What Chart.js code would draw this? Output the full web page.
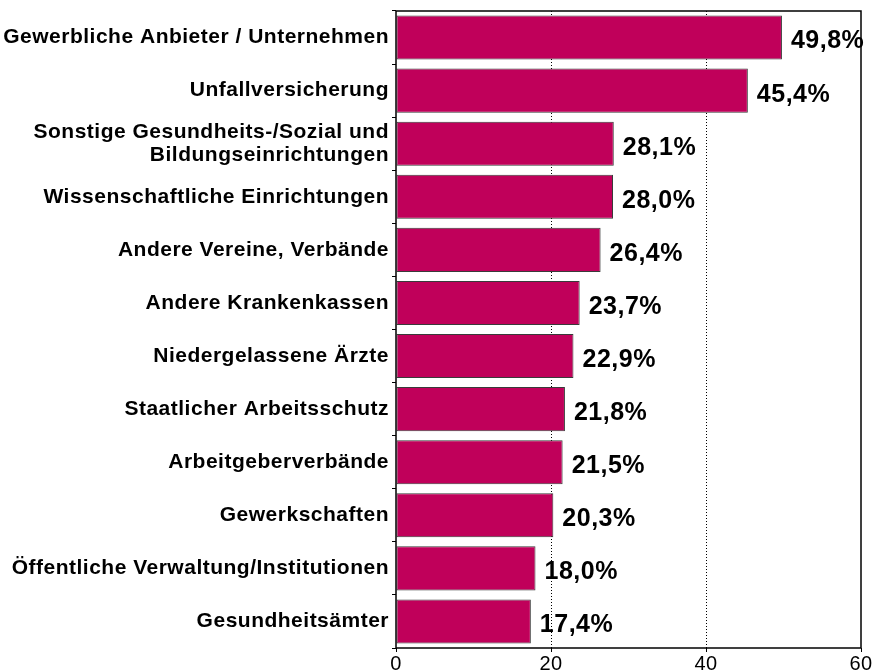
<!DOCTYPE html>
<html>
<head>
<meta charset="utf-8">
<script src="https://cdn.jsdelivr.net/npm/chart.js@4/dist/chart.umd.min.js"></script>
<style>
  html, body { margin: 0; padding: 0; background: #fff; }
  #wrap { width: 873px; height: 672px; }
</style>
</head>
<body>
<div id="wrap"><canvas id="myChart"></canvas></div>
<script>
const categories = [
  'Gewerbliche Anbieter / Unternehmen',
  'Unfallversicherung',
  ['Sonstige Gesundheits-/Sozial und', 'Bildungseinrichtungen'],
  'Wissenschaftliche Einrichtungen',
  'Andere Vereine, Verbände',
  'Andere Krankenkassen',
  'Niedergelassene Ärzte',
  'Staatlicher Arbeitsschutz',
  'Arbeitgeberverbände',
  'Gewerkschaften',
  'Öffentliche Verwaltung/Institutionen',
  'Gesundheitsämter',
]
const values = [49.8, 45.4, 28.1, 28.0, 26.4, 23.7, 22.9, 21.8, 21.5, 20.3, 18.0, 17.4]
const xTicks = [0, 20, 40, 60]

const FONT = "Arial, 'Liberation Sans', sans-serif"

// slightly wider text like the original
const textSpacing = {
  id: 'textSpacing',
  beforeDraw(chart) {
    chart.ctx.letterSpacing = '0.5px'
  },
  afterDraw(chart) {
    chart.ctx.letterSpacing = '0px'
  },
}

// value labels right of each bar
const valueLabels = {
  id: 'valueLabels',
  afterDatasetsDraw(chart) {
    const { ctx } = chart
    const meta = chart.getDatasetMeta(0)
    ctx.save()
    ctx.font = 'bold 25px ' + FONT
    ctx.fillStyle = '#000'
    ctx.textAlign = 'left'
    ctx.textBaseline = 'middle'
    meta.data.forEach((bar, i) => {
      const txt = values[i].toFixed(1).replace('.', ',') + '%'
      ctx.fillText(txt, bar.x + 9, bar.y + 4)
    })
    ctx.restore()
  },
}

// frame around the plot area
const plotBox = {
  id: 'plotBox',
  afterDraw(chart) {
    const { ctx, chartArea } = chart
    ctx.save()
    ctx.strokeStyle = '#000'
    ctx.lineWidth = 1.5
    ctx.strokeRect(chartArea.left, chartArea.top, chartArea.right - chartArea.left, chartArea.bottom - chartArea.top)
    ctx.restore()
  },
}

const ctx = document.getElementById('myChart').getContext('2d')
const myChart = new Chart(ctx, {
  type: 'bar',
  data: {
    labels: categories,
    datasets: [
      {
        data: values,
        backgroundColor: '#C0005A',
        borderColor: '#3a3a3a',
        borderWidth: 1,
        borderSkipped: false,
        barPercentage: 0.83,
        categoryPercentage: 1,
      },
    ],
  },
  options: {
    indexAxis: 'y',
    responsive: true,
    maintainAspectRatio: false,
    animation: false,
    layout: { padding: { top: 11, right: 12, left: 0, bottom: 0 } },
    plugins: {
      legend: { display: false },
      tooltip: { enabled: false },
    },
    scales: {
      x: {
        min: 0,
        max: 60,
        afterBuildTicks: (scale) => {
          scale.ticks = xTicks.map((v) => ({ value: v }))
        },
        afterFit: (scale) => {
          scale.height = 24
          scale.paddingLeft = 0
          scale.paddingRight = 0
        },
        ticks: {
          color: '#000',
          font: { family: FONT, size: 20 },
          padding: 0,
          maxRotation: 0,
        },
        grid: {
          color: (c) => (c.tick && (c.tick.value === 0 || c.tick.value === 60) ? 'rgba(0,0,0,0)' : '#000'),
          lineWidth: 1,
          drawTicks: true,
          tickLength: 4,
          tickColor: '#000',
          tickBorderDash: [],
        },
        border: { display: false, dash: [1, 2] },
      },
      y: {
        afterFit: (scale) => {
          scale.width = 396
          scale.paddingTop = 0
          scale.paddingBottom = 0
        },
        ticks: {
          color: '#000',
          font: { family: FONT, size: 21, weight: 'bold', lineHeight: 1.1 },
          padding: 3,
          autoSkip: false,
        },
        grid: {
          drawOnChartArea: false,
          drawTicks: true,
          tickLength: 4,
          tickColor: '#000',
        },
        border: { display: false },
      },
    },
  },
  plugins: [textSpacing, valueLabels, plotBox],
})
</script>
</body>
</html>
